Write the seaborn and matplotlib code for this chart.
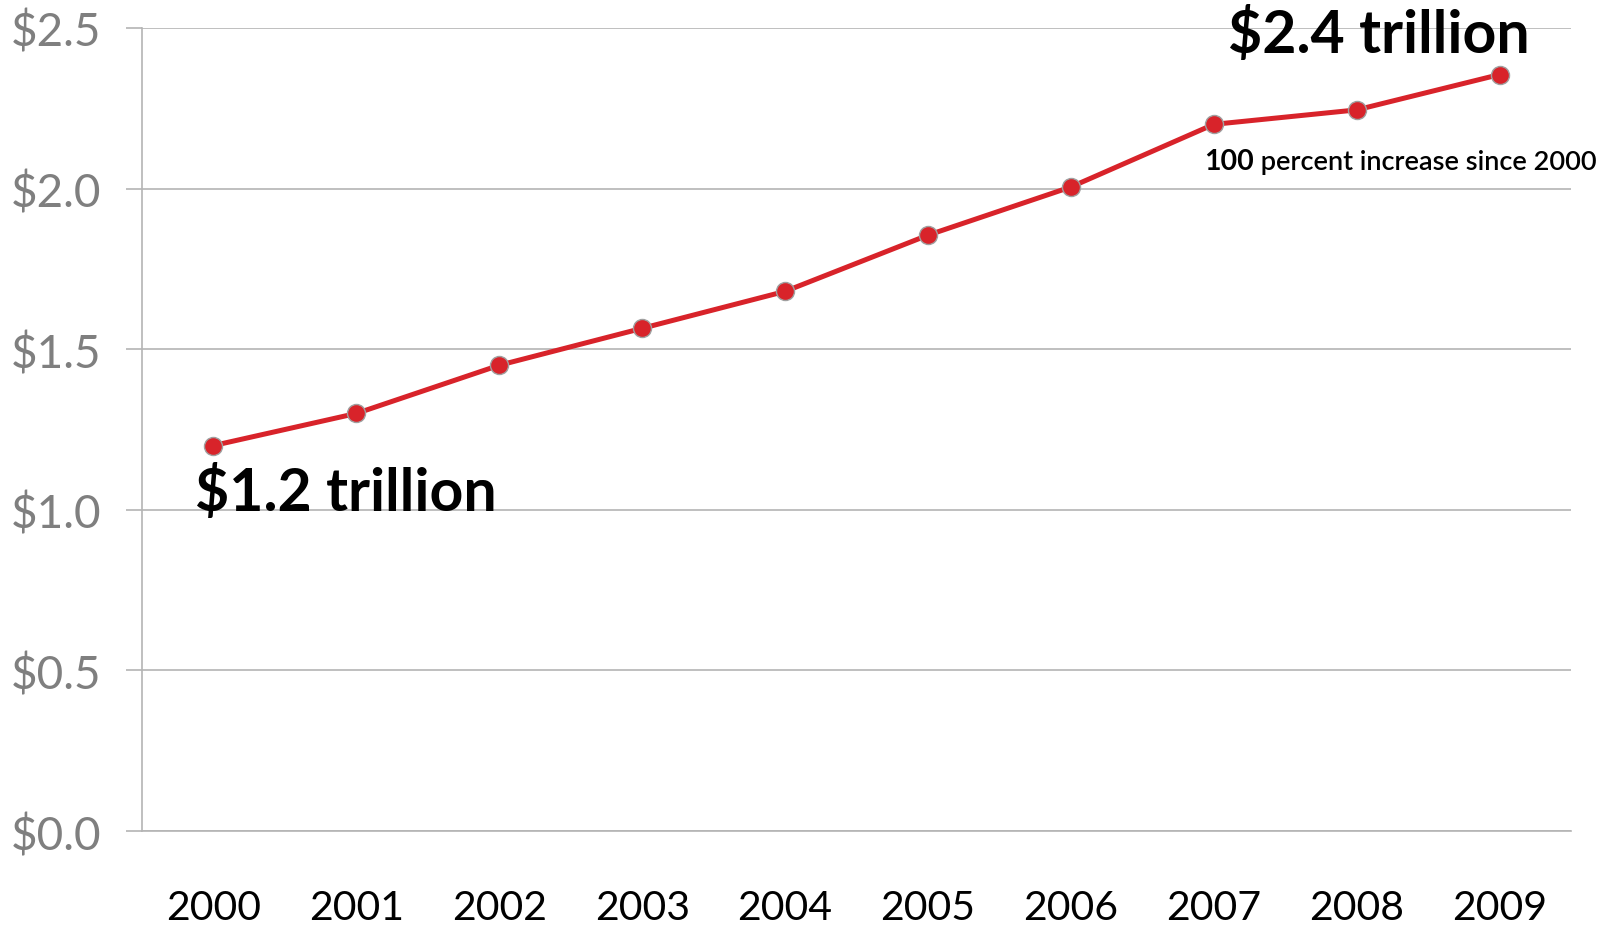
import matplotlib
matplotlib.use("Agg")
import matplotlib.pyplot as plt
import seaborn as sns
import pandas as pd

years = [2000, 2001, 2002, 2003, 2004, 2005, 2006, 2007, 2008, 2009]
spending = [1.20, 1.30, 1.45, 1.565, 1.68, 1.855, 2.005, 2.20, 2.245, 2.355]
y_ticks = [0.0, 0.5, 1.0, 1.5, 2.0, 2.5]
y_tick_labels = ["$0.0", "$0.5", "$1.0", "$1.5", "$2.0", "$2.5"]

df = pd.DataFrame({"year": years, "spending": spending})

sns.set_theme(style="white")
plt.rcParams["font.family"] = ["Lato", "DejaVu Sans"]

fig = plt.figure(figsize=(16.08, 9.29), dpi=100)
ax = fig.add_axes([0.0883, 0.1044, 0.977 - 0.0883, 0.9688 - 0.1044])

grid_color = "#b4b4b4"
red = "#d8232a"

sns.lineplot(data=df, x="year", y="spending", ax=ax, color=red, linewidth=3.6,
             marker="o", markersize=13, markerfacecolor=red,
             markeredgecolor="#a0a0a0", markeredgewidth=1.0, zorder=3)

ax.set_xlim(1999.5, 2009.5)
ax.set_ylim(0, 2.5)
ax.set_yticks(y_ticks)
ax.set_yticklabels(y_tick_labels)
ax.set_xticks(years)
ax.set_xticklabels([str(y) for y in years])
ax.set_xlabel("")
ax.set_ylabel("")

ax.yaxis.grid(True, color=grid_color, linewidth=1.2)
ax.xaxis.grid(False)
ax.set_axisbelow(True)

for side in ["top", "right"]:
    ax.spines[side].set_visible(False)
for side in ["left", "bottom"]:
    ax.spines[side].set_color(grid_color)
    ax.spines[side].set_linewidth(1.2)

ax.tick_params(axis="y", which="both", left=True, length=11.5, width=1.2,
               color=grid_color, pad=18, labelsize=33, labelcolor="#7f7f7f")
ax.tick_params(axis="x", which="both", bottom=False, length=0, pad=42,
               labelsize=29.5, labelcolor="#000000")

ax.text(1999.87, 1.0, "$1.2 trillion", fontsize=42.5, fontweight="bold",
        color="black", ha="left", va="baseline", zorder=4)
ax.text(2007.1, 2.425, "$2.4 trillion", fontsize=42.5, fontweight="bold",
        color="black", ha="left", va="baseline", zorder=4)
t1 = ax.text(2006.93, 2.061, "100", fontsize=20.5, fontweight="bold",
             color="black", ha="left", va="baseline", zorder=4)
ax.annotate(" percent increase since 2000", xy=(1, 0), xycoords=t1,
            fontsize=19.5, fontweight="semibold", color="black",
            ha="left", va="bottom", zorder=4)

fig.savefig("out.png", dpi=100)
